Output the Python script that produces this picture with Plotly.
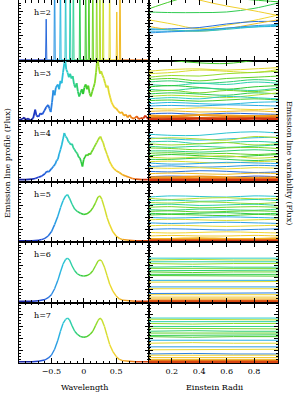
import plotly.graph_objects as go
from plotly.subplots import make_subplots
from plotly.colors import sample_colorscale

FONT = "DejaVu Serif"
H_LABELS = ["h=2", "h=3", "h=4", "h=5", "h=6", "h=7"]
X_TICKS_LEFT = [-0.5, 0, 0.5]
X_TICKTEXT_LEFT = ["\u22120.5", "0", "0.5"]
X_TICKS_RIGHT = [0.2, 0.4, 0.6, 0.8]
X_TICKTEXT_RIGHT = ["0.2", "0.4", "0.6", "0.8"]

# ---------------- emission line profiles (wavelength, flux) ----------------
W2 = [-1.00, -0.59, -0.58, -0.57,
      -0.46, -0.45, -0.44,
      -0.37, -0.36, -0.35,
      -0.29, -0.28, -0.27,
      -0.22, -0.21, -0.20,
      -0.17, -0.16, -0.15,
      -0.07, -0.06, -0.05,
      0.02, 0.03, 0.04,
      0.07, 0.08, 0.09,
      0.13, 0.14, 0.15,
      0.19, 0.20, 0.21,
      0.24, 0.25, 0.26,
      0.29, 0.30, 0.31,
      0.39, 0.40, 0.41,
      0.50, 0.51, 0.52,
      0.55, 0.56, 0.57, 1.00]
F2 = [0.00, 0.00, 0.68, 0.00,
      0.00, 1.60, 0.00,
      0.00, 1.60, 0.00,
      0.00, 1.60, 0.00,
      0.00, 1.60, 0.00,
      0.00, 1.60, 0.00,
      0.00, 1.60, 0.00,
      0.00, 1.60, 0.00,
      0.00, 1.60, 0.00,
      0.00, 1.60, 0.00,
      0.00, 1.60, 0.00,
      0.00, 1.60, 0.00,
      0.00, 1.60, 0.00,
      0.00, 1.60, 0.00,
      0.00, 0.80, 0.00,
      0.00, 1.60, 0.00, 0.00]

W3 = [-1.00, -0.95, -0.92, -0.90, -0.86, -0.82, -0.78, -0.75, -0.73, -0.70,
      -0.67, -0.64, -0.61, -0.58, -0.55, -0.53, -0.51, -0.49, -0.47, -0.45,
      -0.43, -0.40, -0.38, -0.36, -0.34, -0.32, -0.30, -0.29, -0.27, -0.25,
      -0.23, -0.21, -0.19, -0.17, -0.15, -0.13, -0.11, -0.09, -0.07, -0.05,
      -0.03, -0.01, 0.01, 0.03, 0.05, 0.07, 0.09, 0.11, 0.13, 0.15,
      0.17, 0.19, 0.21, 0.23, 0.25, 0.27, 0.29, 0.31, 0.33, 0.35,
      0.37, 0.39, 0.41, 0.43, 0.45, 0.47, 0.50, 0.53, 0.56, 0.59,
      0.62, 0.65, 0.68, 0.71, 0.74, 0.78, 0.82, 0.85, 0.88, 0.92,
      0.95, 0.98, 1.00]
F3 = [0.01, 0.02, 0.05, 0.01, 0.03, 0.00, 0.04, 0.18, 0.08, 0.06,
      0.12, 0.10, 0.16, 0.22, 0.26, 0.20, 0.14, 0.30, 0.50, 0.42,
      0.55, 0.60, 0.52, 0.66, 0.62, 0.80, 0.95, 1.05, 0.85, 0.80,
      0.72, 0.78, 0.70, 0.74, 0.60, 0.55, 0.62, 0.48, 0.40, 0.46,
      0.52, 0.44, 0.55, 0.60, 0.52, 0.58, 0.45, 0.40, 0.48, 0.55,
      0.62, 0.80, 1.05, 0.90, 0.78, 0.82, 0.75, 0.70, 0.62, 0.55,
      0.58, 0.46, 0.38, 0.30, 0.26, 0.22, 0.20, 0.16, 0.12, 0.14,
      0.08, 0.10, 0.05, 0.09, 0.04, 0.03, 0.07, 0.02, 0.04, 0.03,
      0.08, 0.04, 0.02]

W4 = [-1.00, -0.90, -0.80, -0.75, -0.70, -0.65, -0.60, -0.57, -0.54, -0.50,
      -0.47, -0.44, -0.42, -0.40, -0.38, -0.36, -0.34, -0.32, -0.30, -0.28,
      -0.26, -0.24, -0.22, -0.20, -0.18, -0.16, -0.14, -0.12, -0.10, -0.08,
      -0.06, -0.04, -0.02, 0.00, 0.02, 0.04, 0.06, 0.08, 0.10, 0.12,
      0.14, 0.16, 0.18, 0.20, 0.22, 0.24, 0.26, 0.28, 0.30, 0.32,
      0.34, 0.36, 0.38, 0.40, 0.42, 0.44, 0.47, 0.50, 0.55, 0.60,
      0.65, 0.70, 0.75, 0.80, 0.90, 1.00]
F4 = [0.02, 0.02, 0.03, 0.04, 0.06, 0.08, 0.12, 0.16, 0.15, 0.20,
      0.24, 0.28, 0.34, 0.36, 0.45, 0.52, 0.60, 0.70, 0.80, 0.74,
      0.72, 0.66, 0.64, 0.60, 0.62, 0.55, 0.52, 0.48, 0.46, 0.40,
      0.38, 0.32, 0.24, 0.36, 0.40, 0.44, 0.42, 0.46, 0.44, 0.48,
      0.52, 0.56, 0.60, 0.64, 0.68, 0.72, 0.74, 0.68, 0.64, 0.56,
      0.50, 0.44, 0.38, 0.32, 0.28, 0.24, 0.20, 0.17, 0.14, 0.10,
      0.08, 0.06, 0.04, 0.03, 0.02, 0.02]

W5 = [-1.00, -0.80, -0.70, -0.65, -0.60, -0.55, -0.50, -0.45, -0.40, -0.36,
      -0.32, -0.28, -0.25, -0.22, -0.18, -0.14, -0.10, -0.05, 0.00, 0.05,
      0.10, 0.14, 0.18, 0.22, 0.25, 0.28, 0.32, 0.36, 0.40, 0.45,
      0.50, 0.55, 0.60, 0.70, 0.80, 1.00]
F5 = [0.01, 0.01, 0.02, 0.03, 0.05, 0.09, 0.16, 0.28, 0.42, 0.56,
      0.68, 0.76, 0.78, 0.72, 0.62, 0.54, 0.50, 0.47, 0.45, 0.46,
      0.50, 0.56, 0.64, 0.74, 0.76, 0.70, 0.56, 0.40, 0.28, 0.16,
      0.09, 0.05, 0.03, 0.02, 0.01, 0.01]

W6 = [-1.00, -0.80, -0.70, -0.60, -0.55, -0.50, -0.45, -0.40, -0.36, -0.32,
      -0.28, -0.25, -0.22, -0.18, -0.14, -0.10, -0.05, 0.00, 0.05, 0.10,
      0.14, 0.18, 0.22, 0.25, 0.28, 0.32, 0.36, 0.40, 0.45, 0.50,
      0.55, 0.60, 0.70, 0.80, 1.00]
F6 = [0.01, 0.01, 0.02, 0.04, 0.07, 0.12, 0.22, 0.36, 0.50, 0.63,
      0.71, 0.73, 0.70, 0.60, 0.52, 0.47, 0.44, 0.43, 0.44, 0.47,
      0.52, 0.60, 0.68, 0.70, 0.68, 0.58, 0.44, 0.30, 0.18, 0.10,
      0.05, 0.03, 0.02, 0.01, 0.01]

W7 = [-1.00, -0.80, -0.70, -0.60, -0.55, -0.50, -0.45, -0.40, -0.36, -0.32,
      -0.28, -0.25, -0.22, -0.18, -0.14, -0.10, -0.05, 0.00, 0.05, 0.10,
      0.14, 0.18, 0.22, 0.25, 0.28, 0.32, 0.36, 0.40, 0.45, 0.50,
      0.55, 0.60, 0.70, 0.80, 1.00]
F7 = [0.01, 0.01, 0.02, 0.04, 0.07, 0.12, 0.22, 0.37, 0.52, 0.65,
      0.72, 0.74, 0.71, 0.61, 0.52, 0.47, 0.43, 0.42, 0.43, 0.47,
      0.52, 0.61, 0.70, 0.74, 0.71, 0.60, 0.45, 0.30, 0.18, 0.10,
      0.05, 0.03, 0.02, 0.01, 0.01]

# ---------------- variability curves (Einstein radii, flux) ----------------
ER = [0.03, 0.2, 0.4, 0.6, 0.8, 0.975]
ER_FLAT = [0.03, 0.35, 0.65, 0.975]

VAR_W2 = [-0.05, 0.05, 0.0, 0.48, 0.45, -0.55, -0.40, 0.55, -0.45, -0.30]
VAR_F2 = [
    [0.80, 0.79, 0.79, 0.80, 0.86, 0.95],
    [0.85, 0.98, 1.10, 1.15, 1.10, 1.05],
    [1.20, 1.15, 1.10, 1.04, 1.00, 0.97],
    [1.30, 1.15, 1.00, 0.90, 0.82, 0.74],
    [0.67, 0.60, 0.52, 0.58, 0.66, 0.75],
    [0.51, 0.52, 0.54, 0.60, 0.64, 0.64],
    [0.48, 0.48, 0.50, 0.53, 0.55, 0.56],
    [0.56, 0.50, 0.48, 0.52, 0.60, 0.67],
    [0.45, 0.47, 0.49, 0.53, 0.57, 0.59],
    [0.52, 0.50, 0.48, 0.51, 0.55, 0.58],
]

VAR_W3 = [0.05, 0.40, 0.35, 0.20, 0.10, -0.10, -0.20, 0.00, -0.15, 0.15,
          -0.05, 0.25, -0.25, 0.05, -0.35, -0.40, 0.45, 0.55, -0.60, 0.65,
          0.80, 0.95]
VAR_F3 = [
    [1.05, 1.00, 0.96, 0.95, 1.00, 1.05],
    [0.82, 0.85, 0.86, 0.84, 0.86, 0.88],
    [0.78, 0.80, 0.84, 0.82, 0.80, 0.85],
    [0.72, 0.75, 0.74, 0.78, 0.80, 0.82],
    [0.68, 0.70, 0.66, 0.70, 0.72, 0.74],
    [0.64, 0.66, 0.62, 0.64, 0.68, 0.66],
    [0.60, 0.58, 0.62, 0.60, 0.64, 0.62],
    [0.56, 0.58, 0.55, 0.52, 0.56, 0.58],
    [0.52, 0.50, 0.54, 0.52, 0.50, 0.54],
    [0.48, 0.50, 0.46, 0.50, 0.48, 0.52],
    [0.44, 0.46, 0.44, 0.42, 0.46, 0.44],
    [0.40, 0.42, 0.40, 0.38, 0.42, 0.46],
    [0.36, 0.38, 0.36, 0.40, 0.38, 0.36],
    [0.33, 0.34, 0.32, 0.34, 0.36, 0.34],
    [0.28, 0.30, 0.28, 0.27, 0.30, 0.31],
    [0.24, 0.25, 0.24, 0.26, 0.25, 0.24],
    [0.20, 0.19, 0.21, 0.20, 0.18, 0.20],
    [0.15, 0.16, 0.14, 0.15, 0.16, 0.14],
    [0.11, 0.12, 0.10, 0.12, 0.11, 0.10],
    [0.08, 0.07, 0.09, 0.08, 0.07, 0.08],
    [0.04, 0.05, 0.04, 0.05, 0.04, 0.05],
    [0.02, 0.02, 0.03, 0.02, 0.03, 0.02],
]

VAR_W4 = [-0.30, -0.35, 0.25, -0.20, 0.20, -0.15, 0.15, -0.10, 0.10, 0.00,
          0.30, -0.05, 0.35, -0.40, -0.45, 0.42, -0.55, 0.55, -0.65, 0.68,
          0.80, 0.95]
VAR_F4 = [
    [0.78, 0.76, 0.76, 0.80, 0.82, 0.80],
    [0.72, 0.70, 0.68, 0.70, 0.72, 0.73],
    [0.70, 0.72, 0.70, 0.68, 0.74, 0.72],
    [0.65, 0.66, 0.62, 0.64, 0.66, 0.64],
    [0.62, 0.60, 0.62, 0.64, 0.60, 0.62],
    [0.58, 0.56, 0.58, 0.56, 0.58, 0.60],
    [0.55, 0.54, 0.52, 0.55, 0.56, 0.54],
    [0.50, 0.50, 0.48, 0.50, 0.52, 0.50],
    [0.46, 0.47, 0.45, 0.46, 0.44, 0.46],
    [0.42, 0.44, 0.42, 0.40, 0.42, 0.44],
    [0.40, 0.38, 0.40, 0.42, 0.38, 0.40],
    [0.36, 0.36, 0.38, 0.36, 0.34, 0.36],
    [0.32, 0.33, 0.31, 0.30, 0.32, 0.33],
    [0.30, 0.28, 0.29, 0.31, 0.30, 0.29],
    [0.24, 0.25, 0.23, 0.24, 0.26, 0.25],
    [0.22, 0.21, 0.22, 0.20, 0.22, 0.21],
    [0.16, 0.15, 0.17, 0.16, 0.14, 0.15],
    [0.12, 0.13, 0.12, 0.11, 0.13, 0.12],
    [0.07, 0.08, 0.07, 0.06, 0.08, 0.07],
    [0.06, 0.06, 0.07, 0.06, 0.05, 0.06],
    [0.03, 0.03, 0.03, 0.03, 0.03, 0.03],
    [0.015, 0.015, 0.015, 0.015, 0.015, 0.015],
]

VAR_W5 = [-0.30, 0.25, -0.22, 0.20, -0.18, 0.15, -0.12, 0.10, -0.05, 0.05,
          -0.38, 0.35, -0.42, 0.40, -0.48, 0.45, 0.50, 0.60, 0.75, 0.95]
VAR_F5 = [
    [0.74, 0.76, 0.75, 0.74, 0.76, 0.75],
    [0.72, 0.70, 0.72, 0.73, 0.71, 0.72],
    [0.68, 0.69, 0.67, 0.68, 0.70, 0.68],
    [0.65, 0.64, 0.66, 0.65, 0.63, 0.65],
    [0.61, 0.62, 0.60, 0.61, 0.62, 0.60],
    [0.57, 0.58, 0.56, 0.57, 0.58, 0.57],
    [0.53, 0.52, 0.54, 0.53, 0.52, 0.54],
    [0.50, 0.51, 0.49, 0.50, 0.51, 0.50],
    [0.47, 0.46, 0.47, 0.48, 0.46, 0.47],
    [0.44, 0.45, 0.44, 0.43, 0.45, 0.44],
    [0.40, 0.39, 0.40, 0.41, 0.40, 0.39],
    [0.36, 0.37, 0.36, 0.35, 0.36, 0.37],
    [0.31, 0.30, 0.31, 0.32, 0.31, 0.30],
    [0.26, 0.27, 0.26, 0.25, 0.26, 0.27],
    [0.20, 0.21, 0.20, 0.19, 0.20, 0.21],
    [0.15, 0.14, 0.15, 0.16, 0.15, 0.14],
    [0.09, 0.10, 0.09, 0.09, 0.10, 0.09],
    [0.04, 0.04, 0.05, 0.04, 0.04, 0.05],
    [0.02, 0.02, 0.02, 0.02, 0.02, 0.02],
    [0.01, 0.01, 0.01, 0.01, 0.01, 0.01],
]

VAR_W6 = [-0.25, 0.25, -0.20, 0.20, -0.15, 0.15, -0.10, 0.10, -0.05, 0.05,
          -0.38, 0.38, -0.43, 0.42, -0.50, 0.47, 0.52, 0.58, 0.70, 0.90]
VAR_F6 = [
    [0.73, 0.73, 0.72, 0.73], [0.70, 0.71, 0.70, 0.70],
    [0.67, 0.67, 0.68, 0.67], [0.64, 0.63, 0.64, 0.64],
    [0.58, 0.59, 0.58, 0.58], [0.56, 0.56, 0.55, 0.56],
    [0.52, 0.52, 0.52, 0.53], [0.50, 0.49, 0.50, 0.50],
    [0.46, 0.46, 0.47, 0.46], [0.44, 0.44, 0.44, 0.43],
    [0.36, 0.36, 0.35, 0.36], [0.33, 0.33, 0.33, 0.34],
    [0.25, 0.25, 0.26, 0.25], [0.22, 0.22, 0.21, 0.22],
    [0.14, 0.14, 0.14, 0.15], [0.12, 0.12, 0.12, 0.12],
    [0.08, 0.08, 0.08, 0.08], [0.05, 0.05, 0.05, 0.05],
    [0.02, 0.02, 0.02, 0.02], [0.01, 0.01, 0.01, 0.01],
]

VAR_W7 = [-0.25, 0.25, -0.20, 0.20, -0.15, 0.15, -0.10, 0.10, -0.05, 0.05,
          -0.38, 0.38, -0.43, 0.42, -0.50, 0.47, 0.52, 0.58, 0.70, 0.90]
VAR_F7 = [
    [0.74, 0.74, 0.73, 0.74], [0.72, 0.72, 0.72, 0.71],
    [0.68, 0.68, 0.69, 0.68], [0.65, 0.64, 0.65, 0.65],
    [0.60, 0.60, 0.59, 0.60], [0.57, 0.57, 0.57, 0.56],
    [0.52, 0.53, 0.52, 0.52], [0.49, 0.49, 0.50, 0.49],
    [0.45, 0.45, 0.45, 0.46], [0.43, 0.42, 0.43, 0.43],
    [0.37, 0.37, 0.36, 0.37], [0.32, 0.33, 0.32, 0.32],
    [0.26, 0.26, 0.27, 0.26], [0.21, 0.21, 0.21, 0.22],
    [0.14, 0.15, 0.14, 0.14], [0.12, 0.12, 0.11, 0.12],
    [0.08, 0.08, 0.08, 0.08], [0.05, 0.05, 0.05, 0.05],
    [0.02, 0.02, 0.02, 0.02], [0.01, 0.01, 0.01, 0.01],
]

PROFILES = [(W2, F2), (W3, F3), (W4, F4), (W5, F5), (W6, F6), (W7, F7)]
VARIABILITY = [(VAR_W2, VAR_F2, ER), (VAR_W3, VAR_F3, ER), (VAR_W4, VAR_F4, ER),
               (VAR_W5, VAR_F5, ER), (VAR_W6, VAR_F6, ER_FLAT), (VAR_W7, VAR_F7, ER_FLAT)]

CSCALE = [
    [0.00, "#1a1a8c"], [0.15, "#1f3fd0"], [0.25, "#2a80e2"], [0.32, "#28b8e2"],
    [0.38, "#2ccfc0"], [0.44, "#30d080"], [0.50, "#2ec82e"], [0.58, "#7cd828"],
    [0.64, "#c4e030"], [0.72, "#f0d830"], [0.80, "#f0b020"], [0.88, "#ee7a18"],
    [1.00, "#c82010"],
]


def wl_color(w):
    v = min(1.0, max(0.0, (w + 1.0) / 2.0))
    return sample_colorscale(CSCALE, [v])[0]


fig = make_subplots(rows=6, cols=2, horizontal_spacing=0, vertical_spacing=0)

PROFILE_WIDTHS = [1.0, 1.8, 1.7, 1.5, 1.4, 1.4]
for r, (ws, fs) in enumerate(PROFILES, start=1):
    width = PROFILE_WIDTHS[r - 1]
    for i in range(len(ws) - 1):
        fig.add_trace(go.Scatter(
            x=ws[i:i + 2], y=fs[i:i + 2], mode="lines",
            line=dict(color=wl_color((ws[i] + ws[i + 1]) / 2), width=width),
            showlegend=False, hoverinfo="skip"), row=r, col=1)

for r, (vw, vf, erx) in enumerate(VARIABILITY, start=1):
    shape = "spline" if r <= 4 else "linear"
    for w, ys in zip(vw, vf):
        lw = 2.2 if w >= 0.6 else 1.0
        fig.add_trace(go.Scatter(
            x=erx, y=ys, mode="lines",
            line=dict(color=wl_color(w), width=lw, shape=shape),
            showlegend=False, hoverinfo="skip"), row=r, col=2)

axis_common = dict(showline=True, linecolor="black", linewidth=1, mirror="ticks",
                   ticks="inside", tickcolor="black", showgrid=False, zeroline=False,
                   tickfont=dict(family=FONT, size=8, color="black"))

for r in range(1, 7):
    fig.update_xaxes(range=[-1, 1], tickmode="array", tickvals=X_TICKS_LEFT,
                     ticktext=X_TICKTEXT_LEFT, ticklen=5,
                     minor=dict(ticks="inside", ticklen=2.5, dtick=0.1, tick0=0,
                                tickcolor="black", showgrid=False),
                     showticklabels=(r == 6), row=r, col=1, **axis_common)
    fig.update_xaxes(range=[0.03, 0.975], tickmode="array", tickvals=X_TICKS_RIGHT,
                     ticktext=X_TICKTEXT_RIGHT, ticklen=5,
                     minor=dict(ticks="inside", ticklen=2.5, dtick=0.1, tick0=0,
                                tickcolor="black", showgrid=False),
                     showticklabels=(r == 6), row=r, col=2, **axis_common)
    for c in (1, 2):
        fig.update_yaxes(range=[-0.01, 1.0], dtick=0.2, ticklen=4,
                         minor=dict(ticks="inside", ticklen=2, dtick=0.05,
                                    tickcolor="black", showgrid=False),
                         showticklabels=False, row=r, col=c, **axis_common)

annotations = []
for r, lab in enumerate(H_LABELS, start=1):
    idx = (r - 1) * 2 + 1
    sfx = "" if idx == 1 else str(idx)
    annotations.append(dict(text=lab, xref=f"x{sfx} domain", yref=f"y{sfx} domain",
                            x=0.1, y=0.79, xanchor="left", yanchor="middle",
                            showarrow=False, font=dict(family=FONT, size=8, color="black")))

W, H = 299, 393
L, R, T, B = 19, 21, 0, 30
pw, ph = W - L - R, H - T - B


def px_x(x):
    return (x - L) / pw


def px_y(y):
    return (H - B - y) / ph


annotations += [
    dict(text="Wavelength", xref="paper", yref="paper", x=px_x(84), y=px_y(387),
         xanchor="center", yanchor="middle", showarrow=False,
         font=dict(family=FONT, size=8, color="black")),
    dict(text="Einstein Radii", xref="paper", yref="paper", x=px_x(215), y=px_y(387),
         xanchor="center", yanchor="middle", showarrow=False,
         font=dict(family=FONT, size=8, color="black")),
    dict(text="Emission line profile (Flux)", xref="paper", yref="paper",
         x=px_x(7), y=px_y(163), xanchor="center", yanchor="middle", textangle=-90,
         showarrow=False, font=dict(family=FONT, size=8, color="black")),
    dict(text="Emission line variability (Flux)", xref="paper", yref="paper",
         x=px_x(290), y=px_y(163), xanchor="center", yanchor="middle", textangle=90,
         showarrow=False, font=dict(family=FONT, size=8, color="black")),
]

fig.update_layout(width=W, height=H, margin=dict(l=L, r=R, t=T, b=B),
                  paper_bgcolor="white", plot_bgcolor="white",
                  annotations=annotations, showlegend=False)

fig.write_html("out.html", config={"displayModeBar": False, "staticPlot": True},
               post_script="document.body.style.margin='0';document.body.style.padding='0';")
